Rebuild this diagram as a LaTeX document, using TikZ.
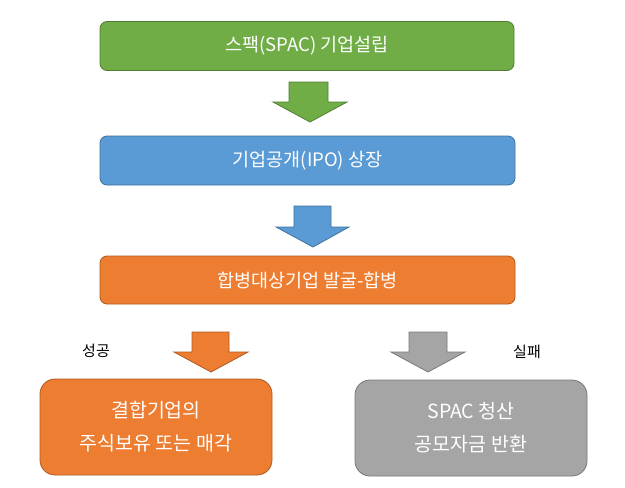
\documentclass[tikz,border=0pt]{standalone}
\usepackage{fontspec}
\setmainfont{Noto Sans CJK KR}
\begin{document}
\begin{tikzpicture}[x=1pt,y=-1pt,
  box/.style={draw, line width=0.8pt, rounded corners=7pt, text=white, align=center, inner sep=0pt, font=\fontsize{18.5}{22}\selectfont},
  bigbox/.style={box, rounded corners=15pt, font=\fontsize{19.5}{33}\selectfont},
  blockarrow/.style={draw, line width=0.8pt},
  lbl/.style={font=\fontsize{15}{18}\selectfont, text=black, inner sep=0pt}]
\definecolor{gfill}{HTML}{70AD47}\definecolor{gline}{HTML}{507E32}
\definecolor{bfill}{HTML}{5B9BD5}\definecolor{bline}{HTML}{41719C}
\definecolor{ofill}{HTML}{ED7D31}\definecolor{oline}{HTML}{AE5A21}
\definecolor{yfill}{HTML}{A5A5A5}\definecolor{yline}{HTML}{787878}
\useasboundingbox (0,0) rectangle (625,488);
\fill[white] (0,0) rectangle (625,488);

\node[box, fill=gfill, draw=gline, minimum width=414pt, minimum height=49pt] (b1) at (307,46) {스팩(SPAC) 기업설립};
\node[box, fill=bfill, draw=bline, minimum width=415pt, minimum height=49pt] (b2) at (307.5,160.5) {기업공개(IPO) 상장};
\node[box, fill=ofill, draw=oline, minimum width=415pt, minimum height=48pt] (b3) at (307.5,280) {합병대상기업 발굴-합병};
\node[bigbox, fill=ofill, draw=oline, minimum width=232pt, minimum height=96pt] (b4) at (156,427) {결합기업의\\주식보유 또는 매각};
\node[bigbox, fill=yfill, draw=yline, minimum width=232pt, minimum height=96pt] (b5) at (471,428) {SPAC 청산\\공모자금 반환};

\node[lbl] (l1) at (96,351) {성공};
\node[lbl] (l2) at (527,352) {실패};

\draw[blockarrow, fill=gfill, draw=gline] (289,82) -- (328,82) -- (328,102) -- (347,102) -- (310,122) -- (273,102) -- (289,102) -- cycle;
\draw[blockarrow, fill=bfill, draw=bline] (294,206) -- (331,206) -- (331,227) -- (349,227) -- (313,247) -- (276,227) -- (294,227) -- cycle;
\draw[blockarrow, fill=ofill, draw=oline] (192,332) -- (229,332) -- (229,352) -- (248,352) -- (211,372) -- (174,352) -- (192,352) -- cycle;
\draw[blockarrow, fill=yfill, draw=yline] (409,332) -- (447,332) -- (447,352) -- (465,352) -- (428,372) -- (391,352) -- (409,352) -- cycle;
\end{tikzpicture}
\end{document}
